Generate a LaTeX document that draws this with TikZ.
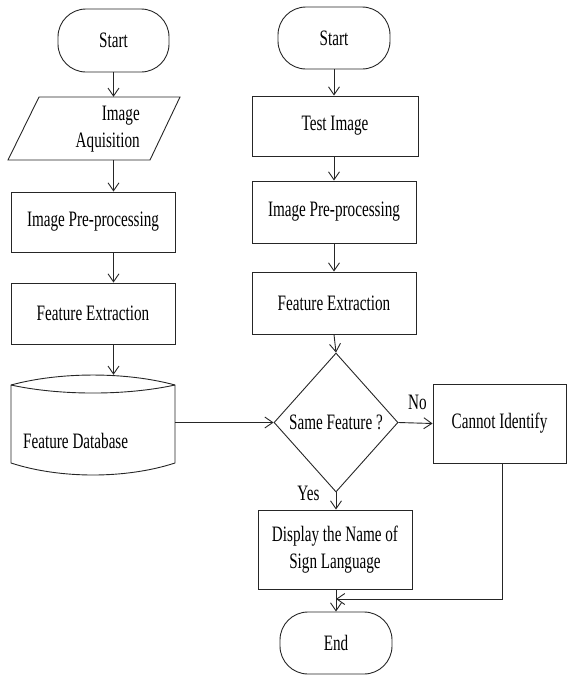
\documentclass[tikz,border=0pt]{standalone}
\usepackage{fontspec}
\setmainfont[FakeStretch=0.69]{Liberation Serif}
\usetikzlibrary{arrows.meta,shapes.geometric}
\begin{document}
\begin{tikzpicture}[x=1pt,y=-1pt,
  every node/.style={font=\fontsize{22}{27}\selectfont, text=black},
  ln/.style={draw=black!85, line width=0.9pt},
  arr/.style={ln, -{Straight Barb[length=8pt,width=11pt]}},
  proc/.style={ln, rectangle, inner sep=0pt, align=center},
  term/.style={ln, rectangle, rounded corners=28pt, inner sep=0pt},
  dec/.style={ln, diamond, inner sep=0pt, aspect=0.89},
  ghost/.style={inner sep=0pt, rectangle}
]
\useasboundingbox (0,0) rectangle (567,675);

% ---------- left column ----------
\node[term, minimum width=111pt, minimum height=63pt] (startL) at (113.5,40.5) {Start};
\node[ghost, minimum width=172pt, minimum height=63pt] (para) at (94,128.5) {};
\draw[ln] (39,97) -- (180,97) -- (150,160) -- (8,160) -- cycle;
\node[ghost, anchor=east, align=right] (paratext) at (140,129) {Image\\Aquisition};
\node[proc, minimum width=164pt, minimum height=60pt] (boxL1) at (93,222) {Image Pre-processing};
\node[proc, minimum width=164pt, minimum height=61pt] (boxL2) at (93,313.5) {Feature Extraction};
\node[ghost, minimum width=164pt, minimum height=100pt] (db) at (93,425) {};
\draw[ln] (11,385) .. controls (60,371.7) and (126,371.7) .. (175,385)
          -- (175,463) .. controls (126,479) and (60,479) .. (11,463) -- cycle;
\draw[ln] (11,385) .. controls (60,395.7) and (126,395.7) .. (175,385);
\node[ghost, anchor=west] (dbtext) at (23,441) {Feature Database};

\draw[arr] (startL.south) -- (startL.south |- para.north);
\draw[arr] (startL.south |- para.south) -- (startL.south |- boxL1.north);
\draw[arr] (startL.south |- boxL1.south) -- (startL.south |- boxL2.north);
\draw[arr] (startL.south |- boxL2.south) -- (startL.south |- db.north);

% ---------- right column ----------
\node[term, minimum width=112pt, minimum height=62pt] (startR) at (334,38) {Start};
\node[proc, minimum width=166pt, minimum height=60pt] (test) at (335,126) {Test Image};
\node[proc, minimum width=164pt, minimum height=62pt] (boxR1) at (334,212) {Image Pre-processing};
\node[proc, minimum width=164pt, minimum height=62pt] (boxR2) at (334,303) {Feature Extraction};
\node[dec, minimum width=124pt, minimum height=139pt] (dia) at (336,422.5) {Same Feature ?};
\node[proc, minimum width=133pt, minimum height=79pt] (cannot) at (499.5,423.5) {Cannot Identify};
\node[proc, minimum width=154pt, minimum height=79pt] (disp) at (335,549.5) {Display the Name of\\Sign Language};
\node[term, minimum width=112pt, minimum height=62pt] (endn) at (336,643) {End};
\coordinate (join) at (336,599);

\draw[arr] (startR.south) -- (startR.south |- test.north);
\draw[arr] (startR.south |- test.south) -- (startR.south |- boxR1.north);
\draw[arr] (boxR1.south) -- (boxR2.north);
\draw[arr] (boxR2.south) -- (dia.north);
\draw[arr] (db.east |- dia.west) -- (dia.west);
\draw[arr] (dia.east) -- (cannot.west);
\node[ghost] (nolab) at (417.5,402) {No};
\draw[arr] (dia.south) -- (dia.south |- disp.north);
\node[ghost] (yeslab) at (308.5,493) {Yes};
\draw[arr] (dia.south |- disp.south) -- (endn.north);
\draw[arr] ([xshift=3pt]cannot.south) |- (join);
\end{tikzpicture}
\end{document}
